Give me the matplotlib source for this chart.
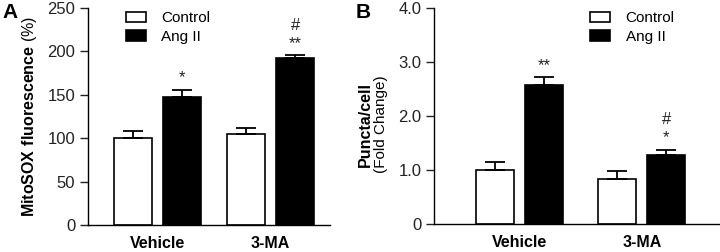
import matplotlib.pyplot as plt
import numpy as np

plt.rcParams['font.family'] = ['Liberation Sans', 'DejaVu Sans']
plt.rcParams['mathtext.fontset'] = 'custom'
plt.rcParams['mathtext.rm'] = 'Liberation Sans'
plt.rcParams['mathtext.bf'] = 'Liberation Sans:bold'
plt.rcParams['font.size'] = 11

groups = ['Vehicle', '3-MA']
series = ['Control', 'Ang II']

# panel A: MitoSOX fluorescence (%)
mito_ctrl = [100, 105]
mito_ctrl_err = [8, 7]
mito_ang = [148, 192]
mito_ang_err = [8, 4]
mito_marks = [['', ''], ['*', '#\n**']]

# panel B: puncta per cell (fold change)
puncta_ctrl = [1.0, 0.83]
puncta_ctrl_err = [0.15, 0.15]
puncta_ang = [2.58, 1.27]
puncta_ang_err = [0.14, 0.11]
puncta_marks = [['', ''], ['**', '#\n*']]


def draw_panel(ax, ctrl, ctrl_err, ang, ang_err, marks, offset, width, xlim):
    x = np.arange(1, len(groups) + 1)
    err_kw = dict(ecolor='black', elinewidth=1.3, capsize=7, capthick=1.3)
    ax.bar(x - offset, ctrl, width, color='white', edgecolor='black', linewidth=1.2,
           yerr=[np.zeros(len(ctrl)), ctrl_err], error_kw=err_kw, label=series[0])
    ax.bar(x + offset, ang, width, color='black', edgecolor='black', linewidth=1.2,
           yerr=[np.zeros(len(ang)), ang_err], error_kw=err_kw, label=series[1])
    tops = [np.array(ctrl) + np.array(ctrl_err), np.array(ang) + np.array(ang_err)]
    for s, sign in enumerate([-1, 1]):
        for i, m in enumerate(marks[s]):
            if m:
                ax.annotate(m, (x[i] + sign * offset, tops[s][i]), xytext=(0, 3),
                            textcoords='offset points', ha='center', va='bottom',
                            fontsize=12, linespacing=1.25, color='#222222')
    ax.set_xlim(*xlim)
    ax.set_xticks(x)
    ax.set_xticklabels(groups, fontweight='bold', fontsize=11.5)
    ax.tick_params(axis='x', length=0, pad=8)
    ax.tick_params(axis='y', direction='out', length=6, width=1, colors='#222222',
                   labelsize=12, pad=3)
    for side in ['top', 'right']:
        ax.spines[side].set_visible(False)
    for side in ['left', 'bottom']:
        ax.spines[side].set_linewidth(1)


fig = plt.figure(figsize=(7.2, 2.52), dpi=100)

axA = fig.add_axes([0.122, 0.107, 0.336, 0.861])
draw_panel(axA, mito_ctrl, mito_ctrl_err, mito_ang, mito_ang_err, mito_marks,
           0.215, 0.335, (0.39, 2.52))
axA.set_ylim(0, 250)
axA.set_yticks([0, 50, 100, 150, 200, 250])
axA.set_ylabel(r'$\bf{MitoSOX\ fluorescence}$ (%)', fontsize=11.5, labelpad=6)
axA.legend(loc='upper left', bbox_to_anchor=(0.125, 1.02), frameon=False, fontsize=11,
           borderpad=0, handlelength=1.3, handleheight=0.7, handletextpad=1.0,
           labelspacing=0.3)
fig.text(0.003, 0.99, 'A', fontsize=15, fontweight='bold', va='top', ha='left')

axB = fig.add_axes([0.603, 0.111, 0.397, 0.857])
draw_panel(axB, puncta_ctrl, puncta_ctrl_err, puncta_ang, puncta_ang_err, puncta_marks,
           0.2, 0.31, (0.3, 2.64))
axB.set_ylim(0, 4.0)
axB.set_yticks([0, 1, 2, 3, 4])
axB.set_yticklabels(['0', '1.0', '2.0', '3.0', '4.0'])
axB.text(-0.24, 0.46, 'Puncta/cell', transform=axB.transAxes, rotation=90,
         fontweight='bold', fontsize=11.5, ha='center', va='center')
axB.text(-0.185, 0.46, '(Fold Change)', transform=axB.transAxes, rotation=90,
         fontsize=11, ha='center', va='center')
axB.legend(loc='upper left', bbox_to_anchor=(0.52, 1.02), frameon=False, fontsize=11,
           borderpad=0, handlelength=1.3, handleheight=0.7, handletextpad=1.0,
           labelspacing=0.3)
fig.text(0.494, 0.99, 'B', fontsize=15, fontweight='bold', va='top', ha='left')

fig.savefig('out.png', dpi=100)
